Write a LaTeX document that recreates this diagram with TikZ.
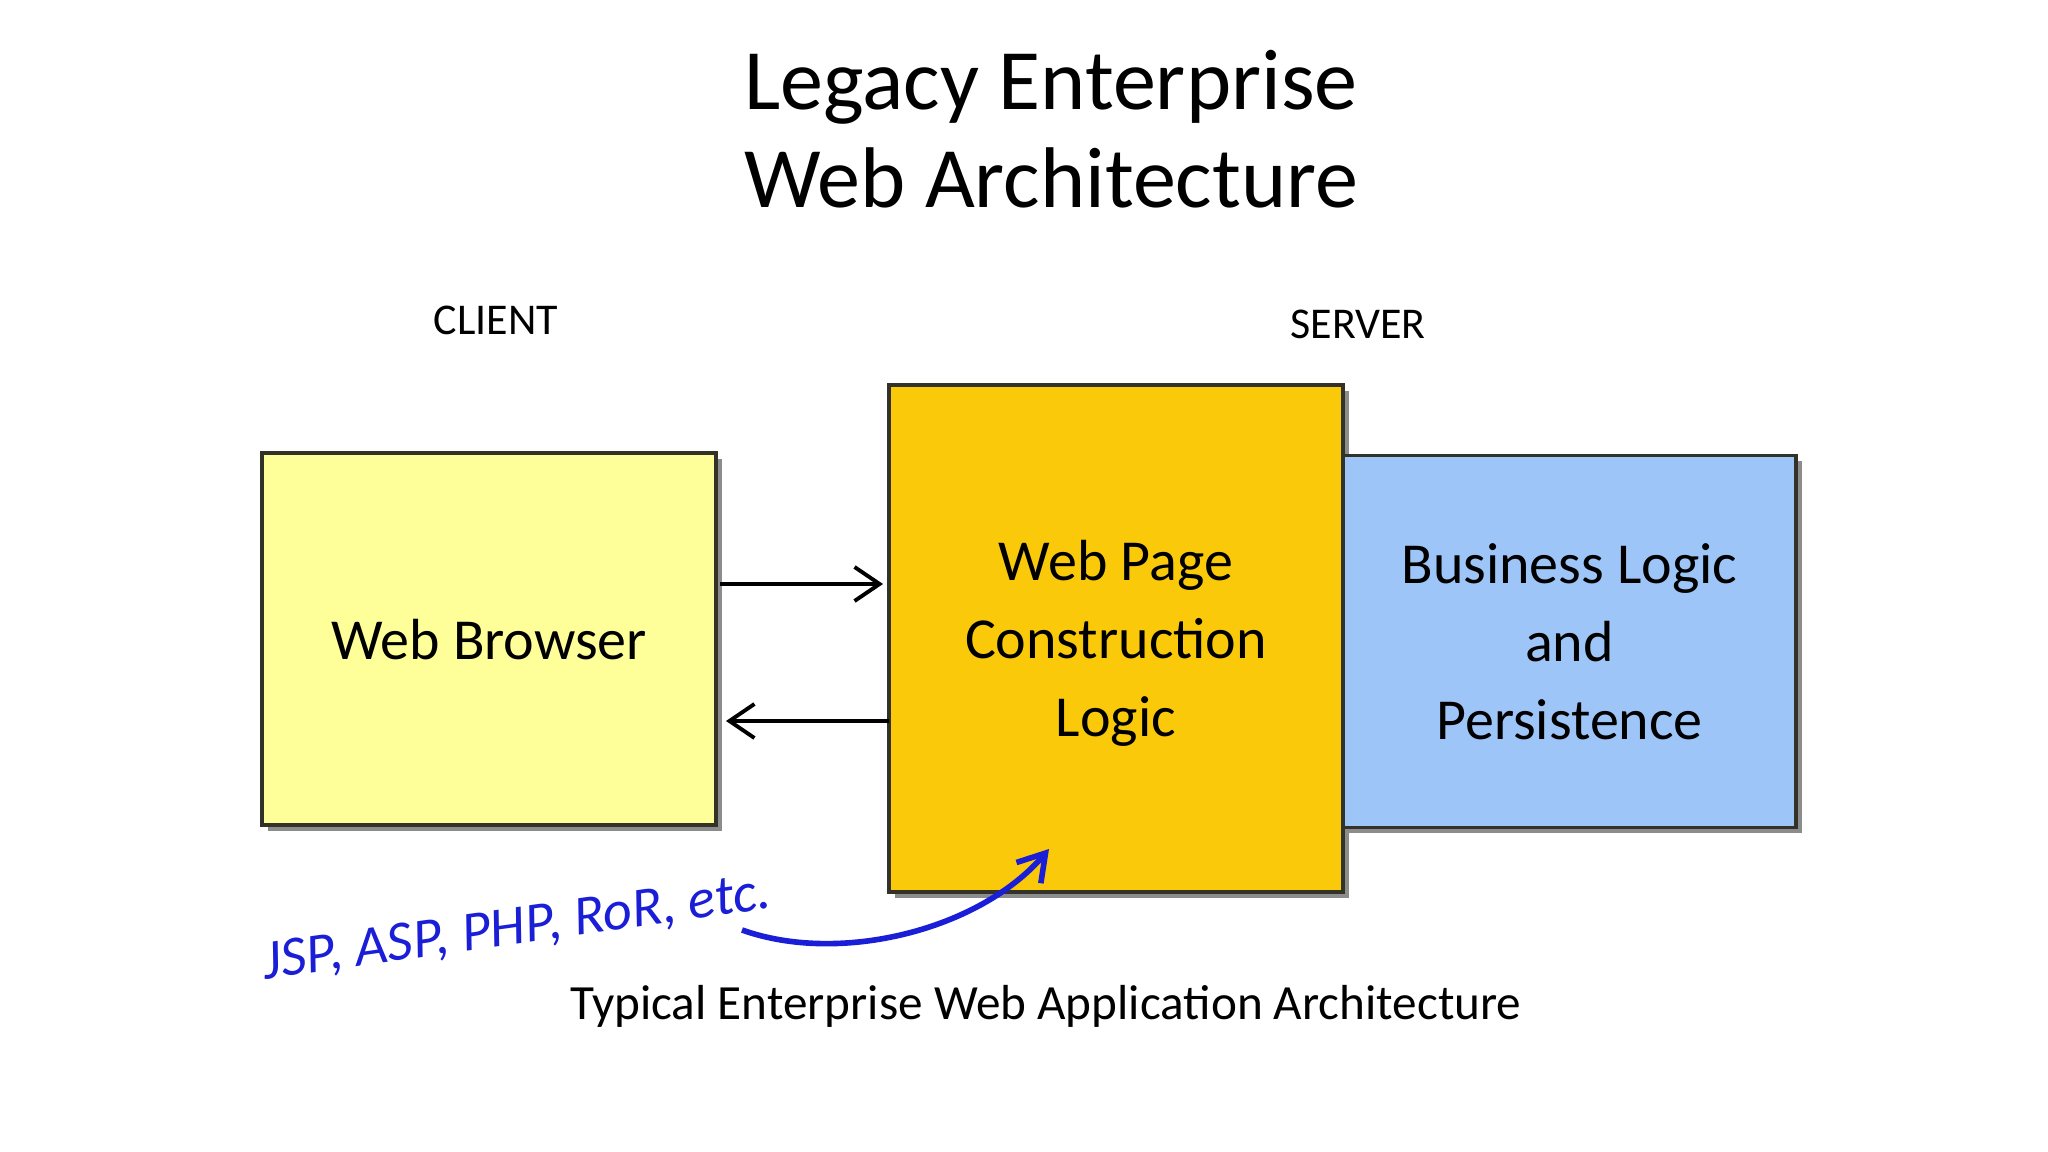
\documentclass[tikz,border=0pt]{standalone}
\usepackage{fontspec}
\setmainfont{Carlito}
\usetikzlibrary{arrows.meta,positioning,calc,shadows}
\definecolor{lwYellow}{RGB}{255,255,153}
\definecolor{lwGold}  {RGB}{249,201, 10}
\definecolor{lwBlue}  {RGB}{158,197,247}
\definecolor{lwInk}   {RGB}{ 26, 30,214}
\definecolor{lwEdge}  {RGB}{ 50, 50, 40}

\begin{document}
\begin{tikzpicture}[
  every node/.style={font=\fontsize{16.5}{22.2}\selectfont},
  box/.style={draw=lwEdge,line width=0.9pt,align=center,inner sep=0pt,
              outer sep=0pt,text depth=0pt,
              drop shadow={shadow xshift=1.6pt,shadow yshift=-1.6pt,
                           opacity=0.45,fill=black}},
  side/.style={font=\fontsize{12.5}{15}\selectfont},
  flow/.style={-{Straight Barb[length=2.5mm,width=3.4mm]},line width=1.1pt},
  hand/.style={font=\fontsize{16}{18}\selectfont\itshape,text=lwInk}
]
\fill[white] (0,0) rectangle (20.48,-11.52);

% title
\node[font=\fontsize{24.5}{27.8}\selectfont,align=center] (title)
   at (10.51,-1.29) {Legacy Enterprise\\Web Architecture};

% tiers
\node[side] (client) at (4.96,-3.20) {CLIENT};
\node[side] (server) at (13.58,-3.24) {SERVER};

% boxes
\node[box,fill=lwYellow,minimum width=4.54cm,minimum height=3.72cm]
   (browser) at (4.89,-6.39) {Web Browser};
\node[box,fill=lwGold,minimum width=4.54cm,minimum height=5.07cm]
   (page) at (11.16,-6.385) {Web Page\\Construction\\Logic};
\node[box,fill=lwBlue,minimum width=4.53cm,minimum height=3.72cm,
      right=0pt of page,yshift=-0.33mm] (logic)
   {Business Logic\\and\\Persistence};

% request / response
\draw[flow,shorten <=0.4mm,shorten >=0.6mm]
   ($(browser.east)+(0,0.55)$) -- ($(page.west)+(0,0.545)$);
\draw[flow,shorten >=1mm]
   ($(page.west)+(0,-0.825)$) -- ($(browser.east)+(0,-0.82)$);

% server page technologies
\node[hand,rotate=8] (tech) at (5.17,-9.29) {JSP, ASP, PHP, RoR, etc.};
\coordinate (tail) at (7.42,-9.30);
\coordinate (tip) at ($(page.south)+(-0.67,0.43)$);
\draw[-{Straight Barb[length=2.6mm,width=3.2mm]},lwInk,line width=1.6pt]
   (tail) .. controls (8.4,-9.65) and (9.8,-9.3) .. (tip);

\node[font=\fontsize{14}{16}\selectfont] (caption) at (10.46,-10.06)
   {Typical Enterprise Web Application Architecture};
\end{tikzpicture}
\end{document}
